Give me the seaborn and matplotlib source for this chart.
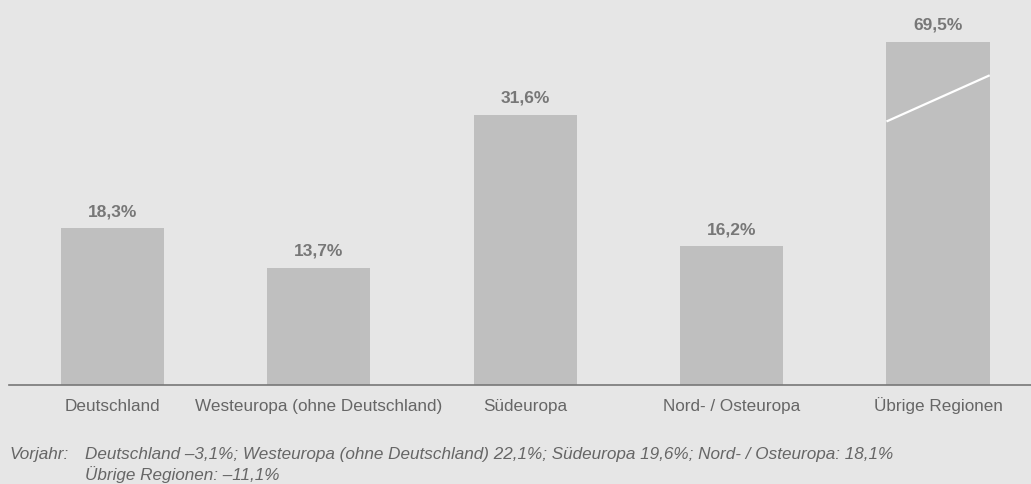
import pandas as pd
import numpy as np
import matplotlib
matplotlib.use("Agg")
import matplotlib.pyplot as plt
import seaborn as sns

regions = ["Deutschland", "Westeuropa (ohne Deutschland)", "Südeuropa",
           "Nord- / Osteuropa", "Übrige Regionen"]
growth = [18.3, 13.7, 31.6, 16.2, 69.5]
labels = ["18,3%", "13,7%", "31,6%", "16,2%", "69,5%"]
cap = 40.1  # bars above this are shown cut (axis break)

df = pd.DataFrame({"Region": regions, "Wert": growth, "Label": labels})
df["Shown"] = df["Wert"].clip(upper=cap)

sns.set_style("white")
plt.rcParams["font.family"] = ["Liberation Sans", "DejaVu Sans"]

fig = plt.figure(figsize=(10.31, 4.84), dpi=100, facecolor="#e6e6e6")
ax = fig.add_axes([9 / 1031, 99 / 484, 1 - 9 / 1031, 385 / 484])
ax.set_facecolor("#e6e6e6")

sns.barplot(data=df, x="Region", y="Shown", color="#bfbfbf", width=0.5,
            saturation=1, linewidth=0, ax=ax)

ax.set_xlim(-0.5, 4.45)
ax.set_ylim(0, 45)
ax.set_xlabel("")
ax.set_ylabel("")
ax.set_yticks([])
for s in ["top", "right", "left"]:
    ax.spines[s].set_visible(False)
ax.spines["bottom"].set_color("#777777")
ax.spines["bottom"].set_linewidth(1.2)
ax.tick_params(axis="x", length=0, pad=18.8, labelsize=12.3, colors="#666666")
for t in ax.get_xticklabels():
    t.set_va("baseline")

for bar, row in zip(ax.patches, df.itertuples()):
    xc = bar.get_x() + bar.get_width() / 2
    ax.text(xc, row.Shown + 1.05, row.Label, ha="center", va="bottom",
            fontsize=12.5, fontweight="bold", color="#777777")
    if row.Wert > cap:
        x0 = bar.get_x()
        x1 = x0 + bar.get_width()
        ax.plot([x0, x1], [row.Shown - 9.3, row.Shown - 3.9], color="white",
                lw=1.6, solid_capstyle="butt")

fs = 12.3
fig.text(10 / 1031, 1 - 454 / 484, "Vorjahr:", fontsize=fs, style="italic",
         color="#666666", va="center")
fig.text(85 / 1031, 1 - 454 / 484,
         "Deutschland –3,1%; Westeuropa (ohne Deutschland) 22,1%; Südeuropa 19,6%; "
         "Nord- / Osteuropa: 18,1%",
         fontsize=fs, style="italic", color="#666666", va="center")
fig.text(85 / 1031, 1 - 475 / 484, "Übrige Regionen: –11,1%", fontsize=fs,
         style="italic", color="#666666", va="center")

fig.savefig("out.png", dpi=100, facecolor=fig.get_facecolor())
